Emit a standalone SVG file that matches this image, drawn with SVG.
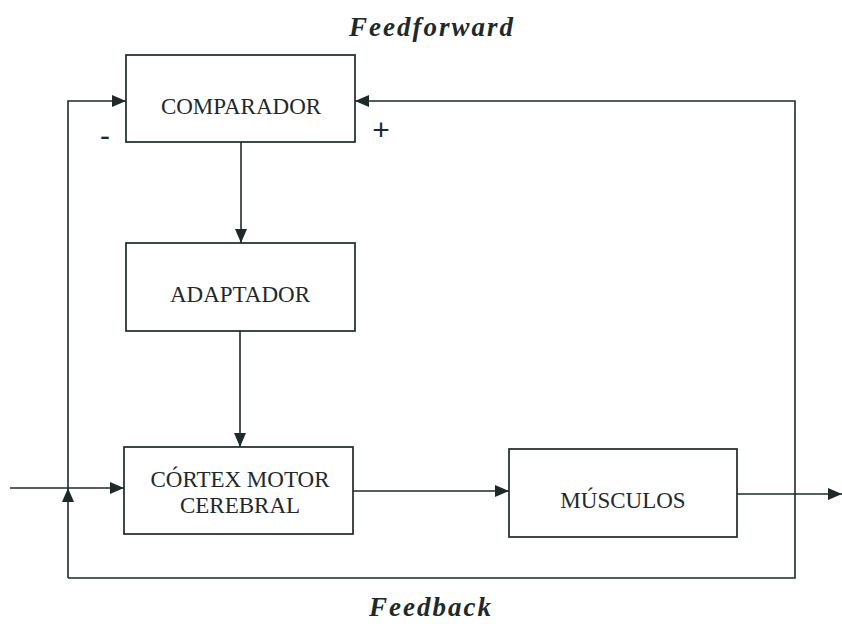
<svg xmlns="http://www.w3.org/2000/svg" width="842" height="624" viewBox="0 0 842 624">
  <defs>
    <marker id="arrow" viewBox="0 0 14 12" refX="14" refY="6" markerWidth="14" markerHeight="12" markerUnits="userSpaceOnUse" orient="auto">
      <path d="M0,0 L14,6 L0,12 Z" fill="#1e2a2a"/>
    </marker>
    <style>
      .box { fill: #ffffff; stroke: #1e2a2a; stroke-width: 1.7; }
      .line { fill: none; stroke: #1e2a2a; stroke-width: 1.6; }
      .label { font-family: "Liberation Serif", "Times New Roman", serif; font-size: 23px; fill: #1e2a2a; text-anchor: middle; }
      .title { font-family: "Liberation Serif", "Times New Roman", serif; font-size: 27px; font-weight: bold; font-style: italic; fill: #1e2a2a; text-anchor: middle; letter-spacing: 2px; }
      .sign { font-family: "Liberation Sans", Arial, sans-serif; font-size: 30px; fill: #1e2a2a; text-anchor: middle; }
    </style>
  </defs>
  <rect width="842" height="624" fill="#ffffff"/>

  <text class="title" x="432" y="36">Feedforward</text>
  <text class="title" x="431" y="616">Feedback</text>

  <g id="connectors">
    <!-- comparador to adaptador -->
    <line class="line" x1="241" y1="142" x2="241" y2="243" marker-end="url(#arrow)"/>
    <!-- adaptador to cortex -->
    <line class="line" x1="240" y1="331" x2="240" y2="447" marker-end="url(#arrow)"/>
    <!-- external input to cortex -->
    <line class="line" x1="10" y1="488" x2="124" y2="488" marker-end="url(#arrow)"/>
    <!-- cortex to musculos -->
    <line class="line" x1="353" y1="491" x2="509" y2="491" marker-end="url(#arrow)"/>
    <!-- musculos output -->
    <line class="line" x1="737" y1="494" x2="842" y2="494" marker-end="url(#arrow)"/>
    <!-- feedback loop back to the comparator (+) -->
    <polyline class="line" points="68,578 795,578 795,101 355,101" marker-end="url(#arrow)"/>
    <!-- feedback branch up to the input junction -->
    <line class="line" x1="68" y1="578" x2="68" y2="488" marker-end="url(#arrow)"/>
    <!-- line up to the comparator (-) -->
    <polyline class="line" points="68,488 68,101 126,101" marker-end="url(#arrow)"/>
  </g>

  <g id="comparador">
    <rect class="box" x="126" y="55" width="229" height="87"/>
    <text class="label" x="241" y="114">COMPARADOR</text>
    <text class="sign" x="105" y="146">-</text>
    <text class="sign" x="381" y="140">+</text>
  </g>

  <g id="adaptador">
    <rect class="box" x="126" y="243" width="229" height="88"/>
    <text class="label" x="240" y="302">ADAPTADOR</text>
  </g>

  <g id="cortex">
    <rect class="box" x="124" y="447" width="229" height="87"/>
    <text class="label" x="240" y="487">CÓRTEX MOTOR</text>
    <text class="label" x="240" y="513">CEREBRAL</text>
  </g>

  <g id="musculos">
    <rect class="box" x="509" y="449" width="228" height="88"/>
    <text class="label" x="623" y="508">MÚSCULOS</text>
  </g>
</svg>
